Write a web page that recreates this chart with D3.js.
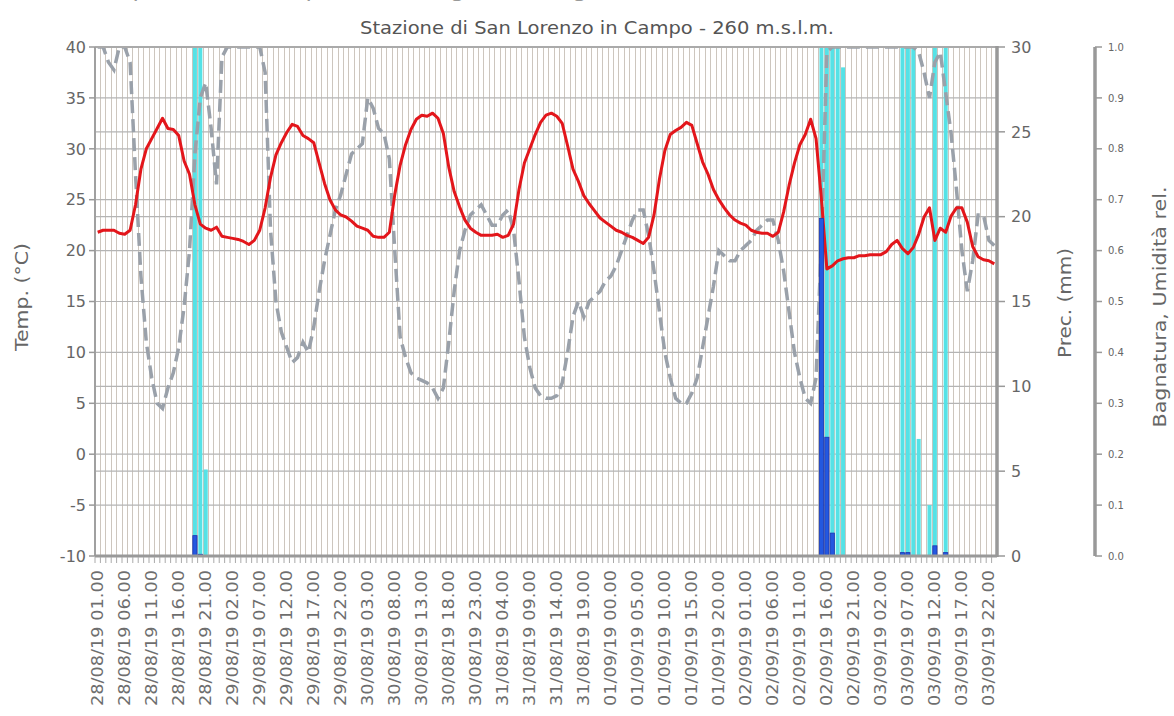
<!DOCTYPE html>
<html><head><meta charset="utf-8">
<script src="https://cdn.jsdelivr.net/npm/d3@7"></script>
<style>body{margin:0;background:#fff}svg{display:block}</style>
</head><body><svg id="c" width="1174" height="716"></svg>
<script>
// ---- DATA ----
const startHour = "2019-08-28T01:00:00";
const nHours = 167;
const tickLabels = ["28/08/19 01.00","28/08/19 06.00","28/08/19 11.00","28/08/19 16.00","28/08/19 21.00",
"29/08/19 02.00","29/08/19 07.00","29/08/19 12.00","29/08/19 17.00","29/08/19 22.00",
"30/08/19 03.00","30/08/19 08.00","30/08/19 13.00","30/08/19 18.00","30/08/19 23.00",
"31/08/19 04.00","31/08/19 09.00","31/08/19 14.00","31/08/19 19.00",
"01/09/19 00.00","01/09/19 05.00","01/09/19 10.00","01/09/19 15.00","01/09/19 20.00",
"02/09/19 01.00","02/09/19 06.00","02/09/19 11.00","02/09/19 16.00","02/09/19 21.00",
"03/09/19 02.00","03/09/19 07.00","03/09/19 12.00","03/09/19 17.00","03/09/19 22.00"];
const tempTicks = [-10,-5,0,5,10,15,20,25,30,35,40];
const precTicks = [0,5,10,15,20,25,30];
const humTicks = [0,0.1,0.2,0.3,0.4,0.5,0.6,0.7,0.8,0.9,1.0];

const temperature = [
21.8,22.0,22.0,22.0,21.7,21.6,22.0,24.5,28.0,30.0,31.0,32.0,33.0,32.0,31.9,31.3,28.8,27.5,24.5,22.6,22.2,22.0,22.3,21.4,
21.3,21.2,21.1,20.9,20.6,21.0,22.0,24.2,27.2,29.4,30.6,31.6,32.4,32.2,31.3,31.0,30.6,28.6,26.6,25.0,24.0,23.5,23.3,22.9,
22.4,22.2,22.0,21.4,21.3,21.3,21.8,25.5,28.4,30.4,31.9,32.9,33.3,33.2,33.5,33.0,31.5,28.2,25.8,24.3,23.0,22.2,21.8,21.5,
21.5,21.5,21.6,21.3,21.5,22.6,26.0,28.6,30.0,31.4,32.6,33.3,33.5,33.2,32.5,30.3,28.0,26.8,25.4,24.6,23.9,23.2,22.8,22.4,
22.0,21.8,21.5,21.3,21.0,20.7,21.3,23.5,27.0,29.8,31.4,31.8,32.1,32.6,32.3,30.5,28.7,27.5,26.0,25.0,24.2,23.5,23.0,22.7,
22.5,22.0,21.8,21.7,21.7,21.4,21.8,23.8,26.4,28.6,30.4,31.4,32.9,31.0,25.0,18.2,18.5,19.0,19.2,19.3,19.3,19.5,19.5,19.6,
19.6,19.6,19.9,20.6,21.0,20.2,19.7,20.3,21.6,23.3,24.2,21.0,22.2,21.8,23.4,24.2,24.2,22.8,20.4,19.4,19.1,19.0,18.7];

const humidity = [
1.0,1.0,0.97,0.955,1.0,1.0,0.97,0.75,0.55,0.42,0.35,0.30,0.29,0.33,0.36,0.41,0.49,0.60,0.79,0.90,0.93,0.84,0.73,0.98,
1.0,1.0,1.0,1.0,1.0,1.0,1.0,0.95,0.64,0.50,0.44,0.41,0.38,0.39,0.42,0.40,0.45,0.52,0.58,0.63,0.68,0.71,0.75,0.79,
0.80,0.81,0.90,0.88,0.84,0.83,0.78,0.60,0.43,0.39,0.36,0.35,0.345,0.34,0.33,0.31,0.33,0.42,0.52,0.60,0.64,0.67,0.68,0.69,
0.67,0.65,0.65,0.67,0.68,0.64,0.54,0.43,0.37,0.33,0.315,0.31,0.31,0.315,0.34,0.40,0.47,0.50,0.47,0.50,0.51,0.52,0.54,0.55,
0.57,0.60,0.63,0.66,0.68,0.68,0.63,0.56,0.48,0.40,0.35,0.31,0.30,0.30,0.32,0.35,0.41,0.47,0.53,0.60,0.59,0.58,0.58,0.60,
0.61,0.62,0.64,0.65,0.66,0.66,0.62,0.56,0.48,0.40,0.35,0.31,0.30,0.35,0.62,0.99,1.0,1.0,1.0,1.0,1.0,1.0,1.0,1.0,
1.0,1.0,1.0,1.0,1.0,1.0,1.0,1.0,0.99,0.95,0.90,0.97,0.99,0.91,0.83,0.72,0.60,0.52,0.58,0.67,0.67,0.62,0.61];

const precipHours = ["28/08/19 19.00","28/08/19 20.00","02/09/19 15.00","02/09/19 16.00","02/09/19 17.00",
"03/09/19 06.00","03/09/19 07.00","03/09/19 12.00","03/09/19 14.00"];
const precipValues = [1.2,0.1,19.9,7.0,1.35,0.2,0.2,0.6,0.2];

const wetHours = ["28/08/19 19.00","28/08/19 20.00","28/08/19 21.00",
"02/09/19 15.00","02/09/19 16.00","02/09/19 17.00","02/09/19 18.00","02/09/19 19.00",
"03/09/19 06.00","03/09/19 07.00","03/09/19 08.00","03/09/19 09.00","03/09/19 11.00","03/09/19 12.00","03/09/19 14.00"];
const wetValues = [1,1,0.17,1,1,1,1,0.96,1,1,1,0.23,0.1,1,1];

// ---- CHART ----
const fmt = d3.timeFormat("%d/%m/%y %H.%M");
const t0 = new Date(startHour);
const categories = d3.range(nHours).map(i => fmt(d3.timeHour.offset(t0, i)));

const L = 95, R = 997, T = 47, B = 556;
const svg = d3.select("#c");
const FONT = "DejaVu Sans, Verdana, sans-serif";
const TXT = "#666";

const x = d3.scaleBand().domain(categories).range([L, R]).padding(0);
const yT = d3.scaleLinear().domain([-10, 40]).range([B, T]);
const yP = d3.scaleLinear().domain([0, 30]).range([B, T]);
const yH = d3.scaleLinear().domain([0, 1]).range([B, T]);
const cx = c => x(c) + x.bandwidth() / 2;

// header line (cut off at the top edge, as in the reference)
svg.append("text").attr("x", 535).attr("y", -3).attr("text-anchor", "middle")
  .attr("font-family", FONT).attr("font-size", 18).attr("fill", "#999")
  .attr("textLength", 900).attr("lengthAdjust", "spacingAndGlyphs")
  .text("Temperatura, Precipitazioni, Bagnatura fogliare e Umidità relativa - dati orari");

svg.append("text").attr("x", 597).attr("y", 34).attr("text-anchor", "middle")
  .attr("font-family", FONT).attr("font-size", 17).attr("fill", "#555")
  .attr("textLength", 474).attr("lengthAdjust", "spacingAndGlyphs")
  .text("Stazione di San Lorenzo in Campo - 260 m.s.l.m.");

const defs = svg.append("defs");
defs.append("clipPath").attr("id", "plot").append("rect")
  .attr("x", L).attr("y", T).attr("width", R - L).attr("height", B - T);

// vertical grid
svg.append("g").selectAll("line").data(categories.slice(1)).join("line")
  .attr("x1", d => x(d)).attr("x2", d => x(d)).attr("y1", T).attr("y2", B)
  .attr("stroke", "#cdc6be").attr("stroke-width", 1).attr("shape-rendering", "crispEdges");

// horizontal grid (temp + prec ticks)
svg.append("g").selectAll("line").data(tempTicks).join("line")
  .attr("x1", L).attr("x2", R).attr("y1", d => yT(d)).attr("y2", d => yT(d))
  .attr("stroke", "#b4b4b4").attr("stroke-width", 1.2);
svg.append("g").selectAll("line").data(precTicks).join("line")
  .attr("x1", L).attr("x2", R).attr("y1", d => yP(d)).attr("y2", d => yP(d))
  .attr("stroke", "#b4b4b4").attr("stroke-width", 1.2);

const plot = svg.append("g").attr("clip-path", "url(#plot)");

// wetness bars (cyan)
const wetBW = 4;
plot.append("g").selectAll("rect").data(wetHours.map((h, i) => ({h, v: wetValues[i]}))).join("rect")
  .attr("x", d => cx(d.h) - wetBW / 2).attr("width", wetBW)
  .attr("y", d => yH(d.v)).attr("height", d => B - yH(d.v))
  .attr("fill", "#55e2e6");

// humidity dashed line
plot.append("path").datum(humidity)
  .attr("d", d3.line().x((d, i) => cx(categories[i])).y(d => yH(d)))
  .attr("fill", "none").attr("stroke", "#9aa1aa").attr("stroke-width", 3.5)
  .attr("stroke-dasharray", "13,6");

// temperature line
plot.append("path").datum(temperature)
  .attr("d", d3.line().x((d, i) => cx(categories[i])).y(d => yT(d)))
  .attr("fill", "none").attr("stroke", "#e3161b").attr("stroke-width", 3)
  .attr("stroke-linejoin", "round");

// precipitation bars
const pBW = 4.2;
plot.append("g").selectAll("rect").data(precipHours.map((h, i) => ({h, v: precipValues[i]}))).join("rect")
  .attr("x", d => cx(d.h) - pBW / 2).attr("width", pBW)
  .attr("y", d => yP(d.v)).attr("height", d => B - yP(d.v))
  .attr("fill", "#2358e0").attr("stroke", "#1c34b0").attr("stroke-width", 0.8);

// frame
svg.append("line").attr("x1", L).attr("x2", R).attr("y1", T).attr("y2", T).attr("stroke", "#aaa").attr("stroke-width", 2);
svg.append("line").attr("x1", L).attr("x2", L).attr("y1", T).attr("y2", B).attr("stroke", "#a0a0a0").attr("stroke-width", 2);
svg.append("line").attr("x1", R).attr("x2", R).attr("y1", T - 1).attr("y2", B + 1).attr("stroke", "#999").attr("stroke-width", 3.5);
svg.append("line").attr("x1", L).attr("x2", R).attr("y1", B).attr("y2", B).attr("stroke", "#999").attr("stroke-width", 3);

// left axis
const gl = svg.append("g");
gl.selectAll("line").data(tempTicks).join("line")
  .attr("x1", L - 6).attr("x2", L).attr("y1", d => yT(d)).attr("y2", d => yT(d)).attr("stroke", "#999").attr("stroke-width", 1.5);
gl.selectAll("text").data(tempTicks).join("text")
  .attr("x", 86).attr("y", d => yT(d)).attr("dy", "0.36em").attr("text-anchor", "end")
  .attr("font-family", FONT).attr("font-size", 16).attr("fill", TXT).text(d => d);

// right prec axis
const gr = svg.append("g");
gr.selectAll("line").data(precTicks).join("line")
  .attr("x1", R).attr("x2", R + 8).attr("y1", d => yP(d)).attr("y2", d => yP(d)).attr("stroke", "#999").attr("stroke-width", 1.5);
gr.selectAll("text").data(precTicks).join("text")
  .attr("x", 1011).attr("y", d => yP(d)).attr("dy", "0.36em").attr("text-anchor", "start")
  .attr("font-family", FONT).attr("font-size", 16).attr("fill", TXT).text(d => d);

// third axis
const AX3 = 1095;
const g3 = svg.append("g");
g3.append("line").attr("x1", AX3).attr("x2", AX3).attr("y1", T).attr("y2", B).attr("stroke", "#999").attr("stroke-width", 3.5);
g3.selectAll("line.t").data(humTicks).join("line").attr("class", "t")
  .attr("x1", AX3).attr("x2", AX3 + 7).attr("y1", d => yH(d)).attr("y2", d => yH(d)).attr("stroke", "#999").attr("stroke-width", 1.5);
g3.selectAll("text").data(humTicks).join("text")
  .attr("x", 1108).attr("y", d => yH(d)).attr("dy", "0.36em").attr("text-anchor", "start")
  .attr("font-family", FONT).attr("font-size", 10).attr("fill", TXT).text(d => d3.format(".1f")(d));

// bottom ticks comb
svg.append("g").selectAll("line").data(categories).join("line")
  .attr("x1", d => x(d)).attr("x2", d => x(d)).attr("y1", B + 1).attr("y2", B + 7)
  .attr("stroke", "#aaa").attr("stroke-width", 1);

// x labels
svg.append("g").selectAll("text").data(tickLabels).join("text")
  .attr("transform", d => `translate(${cx(d)},570) rotate(-90)`)
  .attr("dy", "0.36em").attr("text-anchor", "end")
  .attr("font-family", FONT).attr("font-size", 15).attr("fill", "#6e6e6e")
  .attr("textLength", 136).attr("lengthAdjust", "spacingAndGlyphs")
  .text(d => d);

// axis titles
function vtitle(txt, xx, yy, len, size) {
  svg.append("text").attr("transform", `translate(${xx},${yy}) rotate(-90)`)
    .attr("text-anchor", "middle").attr("dy", "0.36em")
    .attr("font-family", FONT).attr("font-size", size).attr("fill", TXT)
    .attr("textLength", len).attr("lengthAdjust", "spacingAndGlyphs").text(txt);
}
vtitle("Temp. (°C)", 22, 297, 108, 17);
vtitle("Prec. (mm)", 1065, 303, 110, 18);
vtitle("Bagnatura, Umidità rel.", 1160, 307, 241, 18);
</script></body></html>
